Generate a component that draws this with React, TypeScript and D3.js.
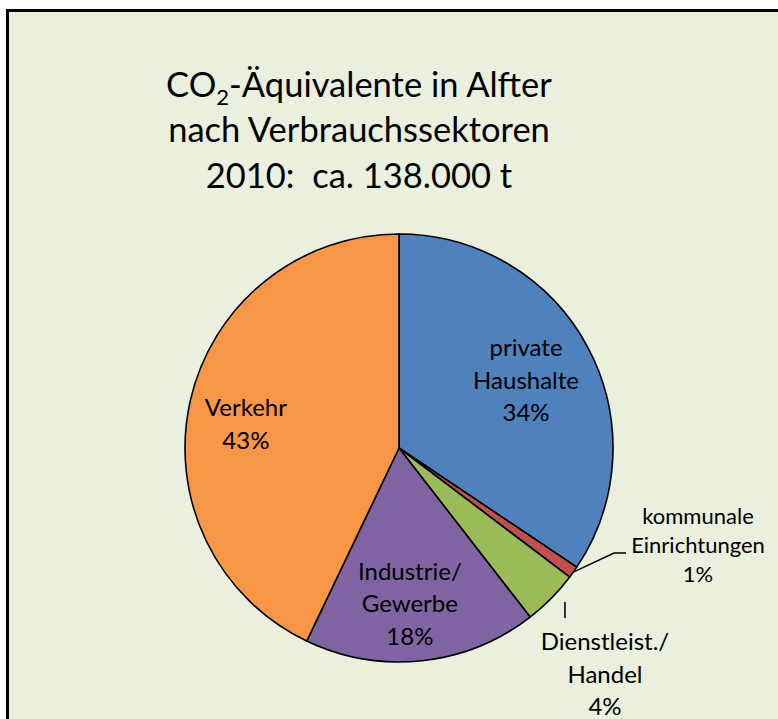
import React from "react";
import * as d3 from "d3";

const categories = ["private Haushalte", "kommunale Einrichtungen", "Dienstleist./ Handel", "Industrie/ Gewerbe", "Verkehr"];
const labelLines = [["private", "Haushalte"], ["kommunale", "Einrichtungen"], ["Dienstleist./", "Handel"], ["Industrie/", "Gewerbe"], ["Verkehr"]];
const shares = [34.4, 0.9, 4.2, 17.6, 42.9];
const colors = ["#4F81BD", "#C0504D", "#9BBB59", "#8064A2", "#F79646"];
const titleLines = ["-Äquivalente in Alfter", "nach Verbrauchssektoren", "2010:\u00A0 ca. 138.000 t"];

const W = 778, H = 719;
const cx = 399, cy = 448, R = 214;
const FONT = "Lato, 'Open Sans', sans-serif";

// label layout: inside radius or outside anchor offset
const labelLayout = [
  { r: 144, dx: 0, dy: 0, fs: 24, lh: 32.5 },
  { out: true, x: 299, y: 97, fs: 22, lh: 29 },
  { out: true, x: 206, y: 226.5, fs: 24, lh: 32.5 },
  { r: 158, dx: -6, dy: -1, fs: 24, lh: 32.5 },
  { r: 157, dx: 0, dy: 11, fs: 24, lh: 33 },
];

export default function App() {
  const pie = d3.pie<number>().sort(null).value((d) => d);
  const arcs = pie(shares);
  const arc = d3.arc<d3.PieArcDatum<number>>().innerRadius(0).outerRadius(R);
  return (
    <svg width={W} height={H} style={{ position: "absolute", left: 0, top: 0 }} fontFamily={FONT}>
      <rect x={0} y={0} width={W} height={H} fill="#ffffff" />
      <rect x={7.5} y={10.5} width={W + 20} height={H + 20} fill="#EBEFDE" stroke="#000" strokeWidth={3} />
      <g textAnchor="middle" fontSize={34.5} fill="#000">
        <text x={359} y={97}>
          <tspan>CO</tspan>
          <tspan fontSize={22} dy={8}>2</tspan>
          <tspan dy={-8}>{titleLines[0]}</tspan>
        </text>
        <text x={359} y={142}>{titleLines[1]}</text>
        <text x={359} y={188}>{titleLines[2]}</text>
      </g>
      <g transform={`translate(${cx},${cy})`}>
        {arcs.map((a, i) => (
          <path key={categories[i]} d={arc(a) || ""} fill={colors[i]} stroke="#000" strokeWidth={1.6} strokeLinejoin="round" />
        ))}
        {arcs.map((a, i) => {
          const L: any = labelLayout[i];
          const lines = [...labelLines[i], `${Math.round(shares[i])}%`];
          let x: number, y: number;
          if (L.out) {
            x = L.x; y = L.y;
          } else {
            const mid = (a.startAngle + a.endAngle) / 2;
            x = Math.sin(mid) * L.r + L.dx;
            y = -Math.cos(mid) * L.r + L.dy;
          }
          const y0 = y - ((lines.length - 1) / 2) * L.lh + L.fs * 0.35;
          return (
            <text key={"l" + i} x={x} y={y0} textAnchor="middle" fontSize={L.fs} fill="#000">
              {lines.map((t, j) => (
                <tspan key={j} x={x} y={y0 + j * L.lh}>{t}</tspan>
              ))}
            </text>
          );
        })}
        {(() => {
          const a1 = arcs[1];
          const m1 = (a1.startAngle + a1.endAngle) / 2;
          const p1x = Math.sin(m1) * R, p1y = -Math.cos(m1) * R;
          const a2 = arcs[2];
          const m2 = (a2.startAngle + a2.endAngle) / 2;
          const p2x = Math.sin(m2) * (R + 8);
          return (
            <g stroke="#000" strokeWidth={1.6} fill="none">
              <polyline points={`${p1x},${p1y} ${215},${105} ${227},${105}`} />
              <line x1={p2x + 8} y1={154} x2={p2x + 8} y2={170} />
            </g>
          );
        })()}
      </g>
    </svg>
  );
}
